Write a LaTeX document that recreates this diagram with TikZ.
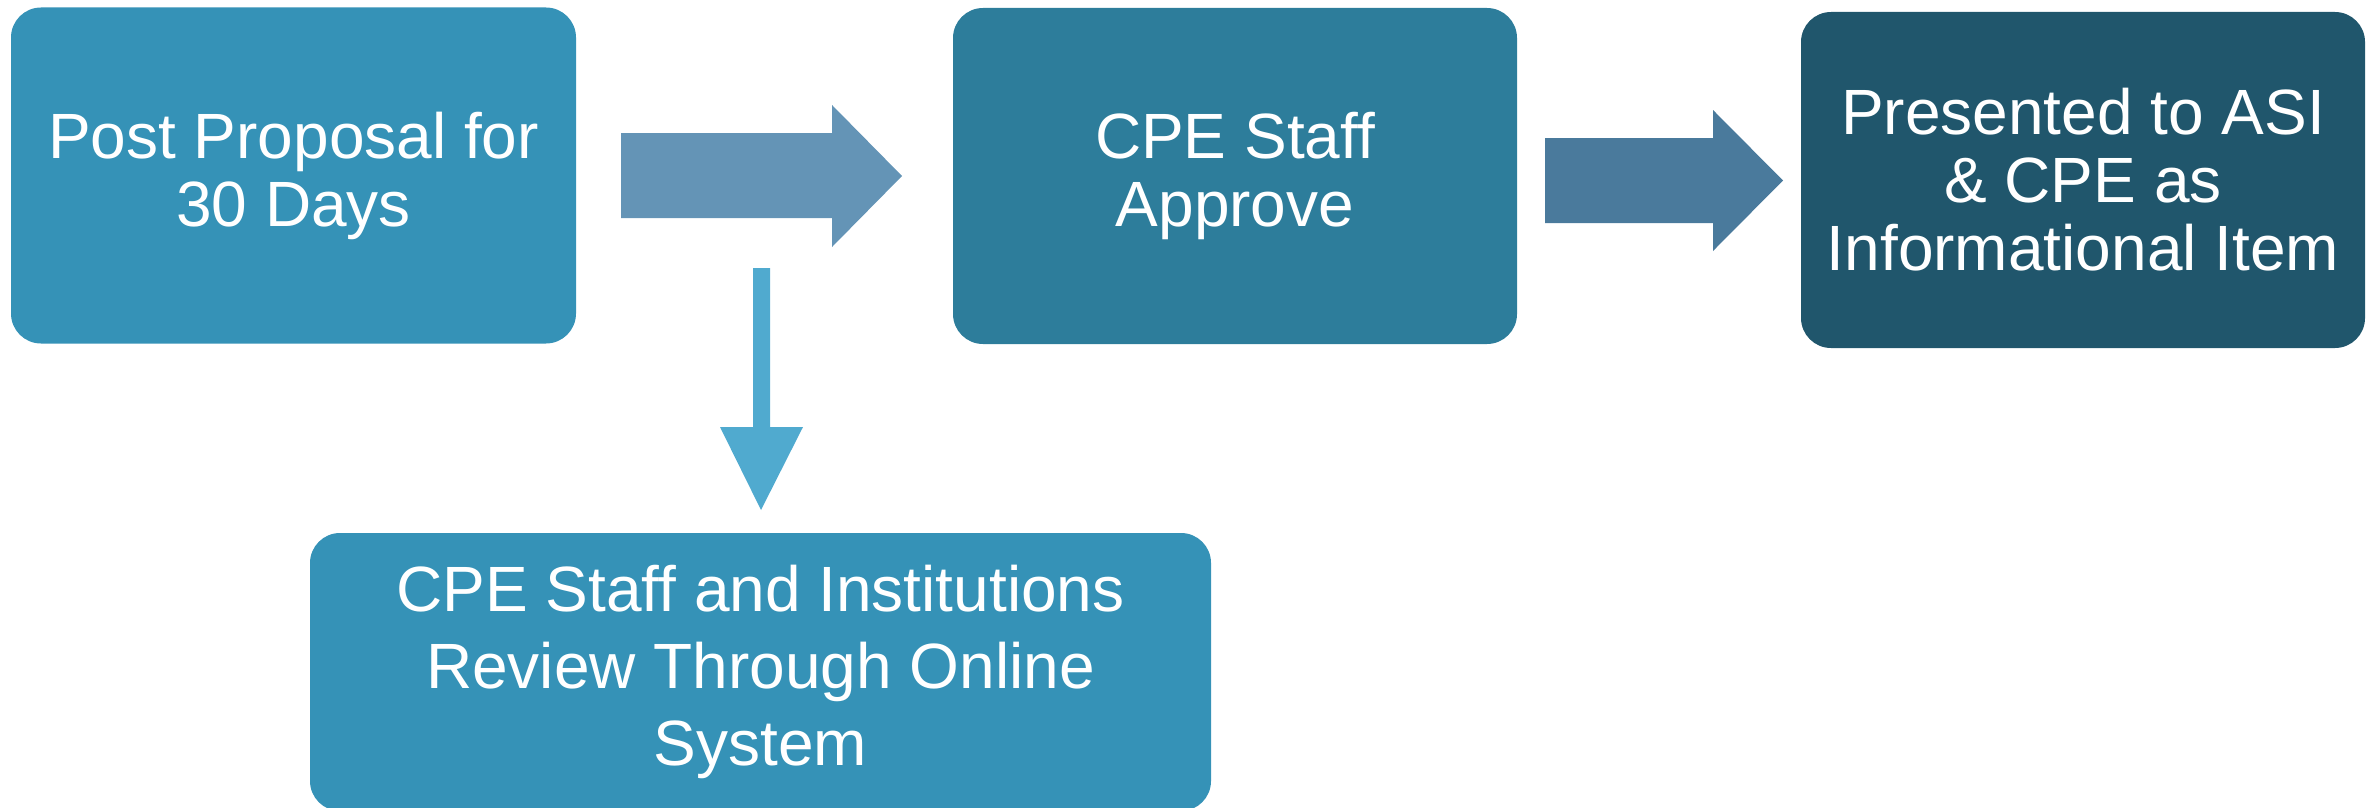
\documentclass[tikz,border=0pt]{standalone}
\usepackage{fontspec}
\setmainfont{Liberation Sans}
\begin{document}
\begin{tikzpicture}[x=1pt,y=-1pt,
  stepbox/.style={rectangle, rounded corners=30pt, inner sep=0pt,
    text=white, align=center, font=\fontsize{64}{68}\selectfont},
  blockarrow/.style={draw=none}]
\definecolor{boxblue}{HTML}{3592B7}
\definecolor{boxteal}{HTML}{2D7D9B}
\definecolor{boxdark}{HTML}{20566C}
\definecolor{arrowA}{HTML}{6494B6}
\definecolor{arrowB}{HTML}{4A7A9C}
\definecolor{arrowC}{HTML}{50AACF}
\clip (0,0) rectangle (2374,808);

% process steps
\node[stepbox, fill=boxblue, minimum width=565pt, minimum height=336pt]
  (post) at (293.5,175.5) {Post Proposal for\\30 Days};
\node[stepbox, fill=boxteal, minimum width=564pt, minimum height=336pt]
  (approve) at (1235,176) {CPE Staff\\Approve};
\node[stepbox, fill=boxdark, minimum width=564pt, minimum height=336pt]
  (present) at (2083,180) {Presented to ASI\\\& CPE as\\Informational Item};
\node[stepbox, fill=boxblue, minimum width=901pt, minimum height=278pt,
  font=\fontsize{64}{77}\selectfont]
  (review) at (760.5,672) {CPE Staff and Institutions\\Review Through Online\\System};

% block arrows between the steps
\fill[arrowA] (621,133) -- (832,133) -- (832,105) -- (902,176)
  -- (832,247) -- (832,218) -- (621,218) -- cycle;
\fill[arrowB] (1545,138) -- (1713,138) -- (1713,110) -- (1783,180.5)
  -- (1713,251) -- (1713,223) -- (1545,223) -- cycle;
\fill[arrowC] (753,268) -- (770,268) -- (770,427) -- (803,427)
  -- (761,510) -- (720,427) -- (753,427) -- cycle;
\end{tikzpicture}
\end{document}
